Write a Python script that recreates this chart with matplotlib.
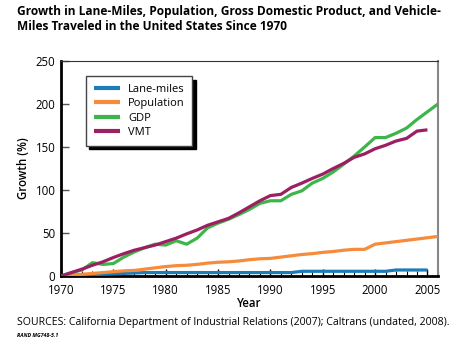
import matplotlib
matplotlib.use("Agg")
import matplotlib.pyplot as plt
from matplotlib.ticker import MultipleLocator

plt.rcParams["font.family"] = ["Open Sans", "DejaVu Sans"]

years = list(range(1970, 2007))

lane_miles = [0, 0.5, 1, 1.5, 2, 2.5, 3, 3.5, 4, 4, 4, 4, 4, 4, 4, 4, 4, 4, 4,
              4, 4, 4, 4, 5.5, 5.5, 5.5, 5.5, 5.5, 5.5, 5.5, 5.5, 5.5, 7, 7, 7, 7]
population = [0, 1, 2, 3, 4, 5, 6, 6.5, 8, 9.5, 11, 12, 12.5, 13.5, 15, 16, 16.5,
              17.5, 19, 20, 20.5, 22, 23.5, 25, 26, 27.5, 28.5, 30, 31, 31, 37,
              38.5, 40, 41.5, 43, 44.5, 46]
gdp = [0, 4, 7, 15.5, 13.5, 14.5, 22, 28, 33, 37, 36, 41, 37, 44, 56, 61.5, 66,
       71.5, 77.5, 84.5, 87.5, 87.5, 95, 99, 108, 113.5, 121, 130, 139.5, 150,
       161, 161, 166, 172, 182, 191, 200]
vmt = [0, 4, 8, 12.5, 16.5, 21.5, 26, 30, 33, 36, 40, 44, 49, 53.5, 59, 63, 67,
       73.5, 80.5, 87.5, 93.5, 95, 103, 108, 113.5, 118.5, 125, 131, 138, 142,
       148, 152, 157, 160, 168.5, 170]

series = [
    ("Lane-miles", lane_miles, "#1b7cb8"),
    ("Population", population, "#f68b3c"),
    ("GDP", gdp, "#3db54a"),
    ("VMT", vmt, "#9c1f62"),
]

fig = plt.figure(figsize=(4.6, 3.55), dpi=100)
ax = fig.add_axes([0.1326, 0.2225, 0.8194, 0.6056])

for name, vals, color in series:
    ax.plot(years[:len(vals)], vals, color=color, linewidth=2.3,
            label=name, solid_capstyle="butt", zorder=3)

ax.set_xlim(1970, 2006)
ax.set_ylim(0, 250)
ax.xaxis.set_major_locator(MultipleLocator(5))
ax.xaxis.set_minor_locator(MultipleLocator(1))
ax.yaxis.set_major_locator(MultipleLocator(50))

ax.tick_params(axis="x", which="major", direction="in", length=5, width=1,
               color="black", labelsize=8.3, pad=5.5)
ax.tick_params(axis="x", which="minor", direction="in", length=3.5, width=0.8,
               color="black")
ax.tick_params(axis="y", which="major", direction="in", length=6, width=1,
               color="#555555", labelsize=8.3, pad=4)

ax.spines["left"].set_linewidth(2)
ax.spines["bottom"].set_linewidth(2)
ax.spines["left"].set_color("black")
ax.spines["bottom"].set_color("black")
ax.spines["top"].set_linewidth(0.8)
ax.spines["top"].set_color("#333333")
ax.spines["right"].set_linewidth(1.5)
ax.spines["right"].set_color("#888888")

ax.set_xlabel("Year", fontsize=8.3, fontweight="semibold", labelpad=0)
ax.set_ylabel("Growth (%)", fontsize=8.3, fontweight="semibold", labelpad=4)

leg = ax.legend(loc="upper left", bbox_to_anchor=(0.066, 0.93),
                borderaxespad=0, fontsize=8, frameon=True, fancybox=False,
                handlelength=2.4, handletextpad=0.7, labelspacing=0.3,
                borderpad=0.7,
                shadow={"ox": 2.5, "oy": -2.5, "color": "black", "alpha": 1})
leg.get_frame().set_edgecolor("#444444")
leg.get_frame().set_linewidth(1.0)
for line in leg.get_lines():
    line.set_linewidth(3)

fig.text(0.037, 0.985, "Growth in Lane-Miles, Population, Gross Domestic Product, and Vehicle-\n"
         "Miles Traveled in the United States Since 1970",
         ha="left", va="top", fontsize=8.6, fontweight="bold", linespacing=1.2)
fig.text(0.037, 0.092, "SOURCES: California Department of Industrial Relations (2007); "
         "Caltrans (undated, 2008).", ha="left", va="center", fontsize=7.6)
fig.text(0.037, 0.056, "RAND MG748-5.1", ha="left", va="center", fontsize=3.8,
         fontweight="bold", style="italic")

fig.savefig("out.png", dpi=100)
